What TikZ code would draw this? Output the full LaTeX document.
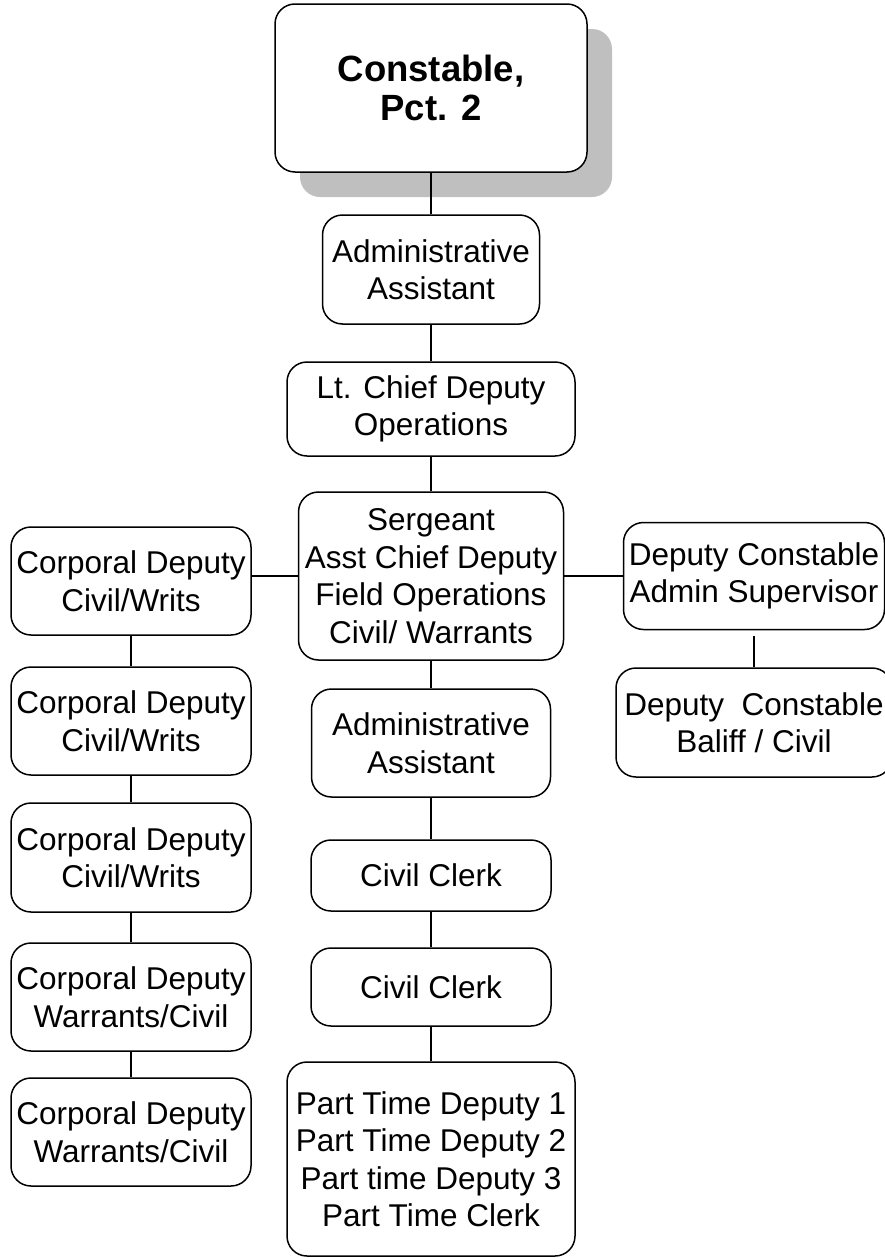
\documentclass[tikz,border=0pt]{standalone}
\usepackage{fontspec}
\setmainfont{Liberation Sans}
\usetikzlibrary{shadows}

\begin{document}
\begin{tikzpicture}[x=1pt,y=-1pt]
\tikzstyle{every node}+=[inner sep=0pt]
\tikzstyle{post}=[draw=black, fill=white, line width=1.5pt, rounded corners=20pt, align=center, font=\fontsize{31.5}{37.5}\selectfont]
\tikzstyle{link}=[black, line width=1.5pt]
\useasboundingbox (0,0) rectangle (885,1258);
\node [post, minimum width=312pt, minimum height=168pt, font=\bfseries\fontsize{36.5}{38.5}\selectfont,
  drop shadow={shadow xshift=25pt, shadow yshift=-25pt, fill=black!25, opacity=1}] (boss) at (431,88) {Constable,\\Pct. 2};
\node [post, minimum width=217pt, minimum height=109pt] (admin1) at (431,269.5) {Administrative\\Assistant};
\node [post, minimum width=288pt, minimum height=94pt] (chief) at (431,409) {Lt. Chief Deputy\\Operations};
\node [post, minimum width=265pt, minimum height=168pt] (sarge) at (431,576) {Sergeant\\Asst Chief Deputy\\Field Operations\\Civil/ Warrants};
\node [post, minimum width=239pt, minimum height=108pt] (admin2) at (431,743) {Administrative\\Assistant};
\node [post, minimum width=240pt, minimum height=71pt] (clerk1) at (431,875.5) {Civil Clerk};
\node [post, minimum width=240pt, minimum height=78pt] (clerk2) at (431,987) {Civil Clerk};
\node [post, minimum width=288pt, minimum height=194pt] (part) at (431,1159) {Part Time Deputy 1\\Part Time Deputy 2\\Part time Deputy 3\\Part Time Clerk};
\node [post, minimum width=240pt, minimum height=108pt] (corp1) at (131,581) {Corporal Deputy\\Civil/Writs};
\node [post, minimum width=240pt, minimum height=108pt] (corp2) at (131,721) {Corporal Deputy\\Civil/Writs};
\node [post, minimum width=240pt, minimum height=109pt] (corp3) at (131,857.5) {Corporal Deputy\\Civil/Writs};
\node [post, minimum width=240pt, minimum height=108pt] (corp4) at (131,997) {Corporal Deputy\\Warrants/Civil};
\node [post, minimum width=240pt, minimum height=108pt] (corp5) at (131,1132) {Corporal Deputy\\Warrants/Civil};
\node [post, minimum width=261pt, minimum height=107pt] (super) at (754,576) {Deputy Constable\\Admin Supervisor};
\node [post, minimum width=276pt, minimum height=109pt] (baliff) at (754,722.5) {Deputy\ \ Constable\\Baliff / Civil};
\draw [link] (boss) -- (admin1);
\draw [link] (admin1) -- (chief);
\draw [link] (chief) -- (sarge);
\draw [link] (sarge) -- (admin2);
\draw [link] (admin2) -- (clerk1);
\draw [link] (clerk1) -- (clerk2);
\draw [link] (clerk2) -- (part);
\draw [link] (sarge.west) -- (sarge.west -| corp1.east);
\draw [link] (sarge) -- (super);
\draw [link, shorten <=6pt] (super) -- (baliff);
\draw [link] (corp1) -- (corp2);
\draw [link] (corp2) -- (corp3);
\draw [link] (corp3) -- (corp4);
\draw [link] (corp4) -- (corp5);
\end{tikzpicture}
\end{document}
